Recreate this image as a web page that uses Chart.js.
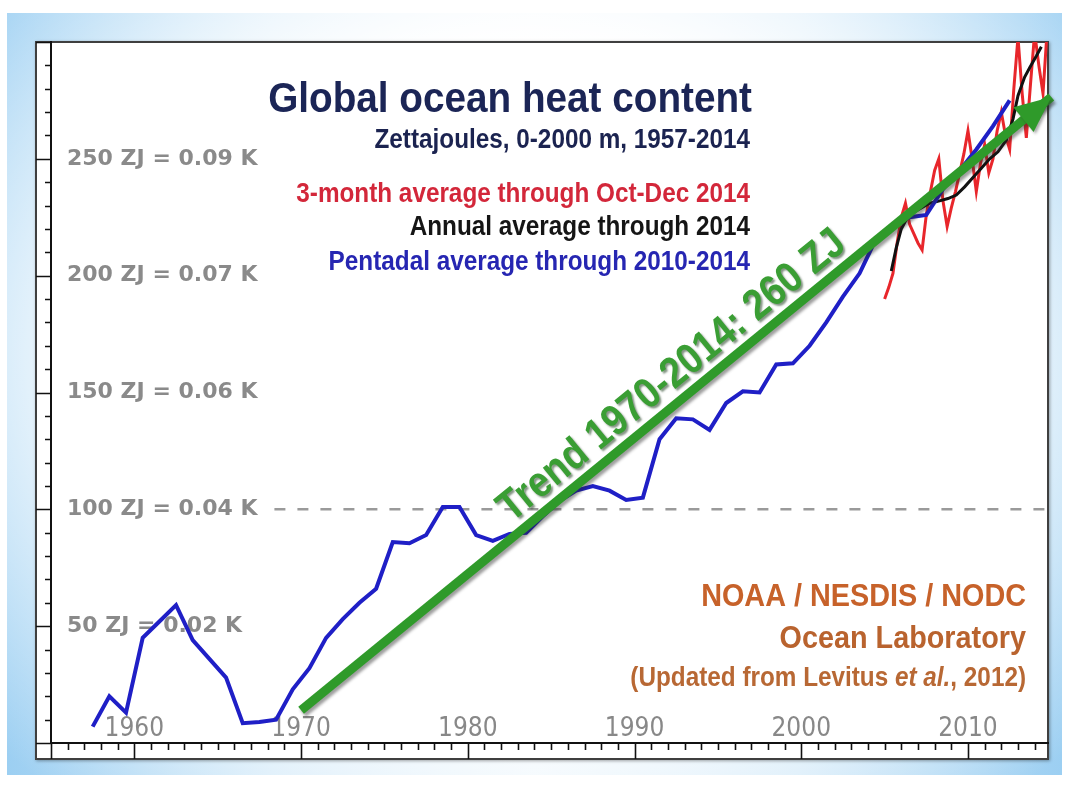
<!DOCTYPE html>
<html>
<head>
<meta charset="utf-8">
<script src="https://cdn.jsdelivr.net/npm/chart.js@4.4.1/dist/chart.umd.min.js"></script>
<style>
  html, body { margin: 0; padding: 0; background: #fff; }
  body { width: 1069px; height: 785px; position: relative; overflow: hidden; }
  #slide {
    position: absolute; left: 7px; top: 13px; width: 1055px; height: 762px;
    background:
      radial-gradient(ellipse 70% 75% at 50% 45%, rgba(255,255,255,1) 55%, rgba(255,255,255,0) 100%),
      linear-gradient(to right, #9ccff2 0%, #cde7f8 25%, #e8f4fc 50%, #cde7f8 75%, #9ccff2 100%);
  }
  #frame {
    position: absolute; left: 35px; top: 41px; width: 1010px; height: 715px;
    background: #fff; border: 2px solid #3f3f3f;
    box-shadow: 1px 1px 3px rgba(0,0,0,0.35);
  }
  #chart { position: absolute; left: 0; top: 0; }
</style>
</head>
<body>
<div id="slide"></div>
<div id="frame"></div>
<canvas id="chart" width="1069" height="785"></canvas>
<script>
// tick labels
const xTickYears = [1960, 1970, 1980, 1990, 2000, 2010];
const yTickZJ = [50, 100, 150, 200, 250];
const yTickKelvin = ['0.02', '0.04', '0.06', '0.07', '0.09'];

// pentadal average (blue), centred years
const pentadalYears = [1957.5, 1958.5, 1959.5, 1960.5, 1961.5, 1962.5, 1963.5, 1964.5, 1965.5, 1966.5,
  1967.5, 1968.5, 1969.5, 1970.5, 1971.5, 1972.5, 1973.5, 1974.5, 1975.5, 1976.5,
  1977.5, 1978.5, 1979.5, 1980.5, 1981.5, 1982.5, 1983.5, 1984.5, 1985.5, 1986.5,
  1987.5, 1988.5, 1989.5, 1990.5, 1991.5, 1992.5, 1993.5, 1994.5, 1995.5, 1996.5,
  1997.5, 1998.5, 1999.5, 2000.5, 2001.5, 2002.5, 2003.5, 2004.5, 2005.5, 2006.5,
  2007.5, 2008.5, 2009.5, 2010.5, 2011.5, 2012.5];
const pentadalZJ = [7, 20, 13, 45, 52, 59, 44, 36, 28, 8.5,
  9, 10, 23, 32, 45, 53, 60, 66, 86, 85.5,
  89, 101, 101, 89, 86.5, 89.5, 90, 97, 103.5, 108,
  110, 108, 104, 105, 130, 139, 138.5, 134, 145.5, 150.5,
  150, 162, 162.5, 170, 180, 191, 201, 216, 222, 225,
  226, 237, 245, 254, 264, 275];

// annual average (black)
const annualYears = [2005.4, 2005.7, 2006.0, 2006.3, 2006.7, 2007.2, 2007.7, 2008.3, 2008.8, 2009.3, 2009.8,
  2010.3, 2010.8, 2011.3, 2011.8, 2012.3, 2012.7, 2013.0, 2013.4, 2013.7, 2014.1, 2014.4];
const annualZJ = [202, 212, 220, 224, 227, 229, 231, 232, 233, 234.5, 238,
  242, 246, 250, 253, 258, 267, 277, 285, 289, 294, 298];

// 3-month average (red)
const quarterYears = [2005, 2005.25, 2005.5, 2005.75, 2006, 2006.25, 2006.5, 2006.75, 2007, 2007.25,
  2007.5, 2007.75, 2008, 2008.25, 2008.5, 2008.75, 2009, 2009.25, 2009.5, 2009.75,
  2010, 2010.25, 2010.5, 2010.75, 2011, 2011.25, 2011.5, 2011.75, 2012, 2012.25,
  2012.5, 2012.75, 2013, 2013.25, 2013.5, 2013.75, 2014, 2014.25, 2014.5, 2014.75];
const quarterZJ = [190, 195, 201, 214, 225, 231, 222, 218, 214, 211,
  226, 236, 245, 250, 232, 221, 229, 236, 244, 252,
  262, 250, 236, 248, 256, 244, 250, 262, 270, 260,
  254, 280, 302, 278, 259, 282, 304, 290, 278, 305];

// trend 1970-2014 arrow and 100 ZJ reference line
const trendYears = [1970, 2015];
const trendZJ = [14, 276.5];
const refYears = [1968.4, 2014.8];
const refZJ = [100, 100];

const pts = (xs, ys) => xs.map((v, i) => ({ x: v, y: ys[i] }));
const SANS = '"Liberation Sans", Arial, sans-serif';

// tick marks outside the plot: long at labelled ticks, short otherwise
const tickMarks = {
  id: 'tickMarks',
  beforeDatasetsDraw(chart) {
    const { ctx, chartArea: a } = chart;
    const x = chart.scales.x, y = chart.scales.y;
    ctx.save();
    ctx.strokeStyle = '#111';
    ctx.lineWidth = 1.6;
    ctx.beginPath();
    x.ticks.forEach(t => {
      if (!Number.isInteger(t.value)) return;
      const px = Math.round(x.getPixelForValue(t.value)) + 0.5;
      const len = (t.value % 10 === 0 || t.value === x.min) ? 16 : 7;
      ctx.moveTo(px, a.bottom);
      ctx.lineTo(px, a.bottom + len);
    });
    y.ticks.forEach(t => {
      const py = Math.round(y.getPixelForValue(t.value)) + 0.5;
      const len = t.value % 50 === 0 ? 15 : 6;
      ctx.moveTo(a.left, py);
      ctx.lineTo(a.left - len, py);
    });
    ctx.stroke();
    ctx.restore();
  }
};

// shadow under the green trend line
const trendShadow = {
  id: 'trendShadow',
  beforeDatasetDraw(chart, args) {
    if (args.index !== 0) return;
    const ctx = chart.ctx;
    ctx.save();
    ctx.shadowColor = 'rgba(40,40,40,0.45)';
    ctx.shadowOffsetX = 2;
    ctx.shadowOffsetY = 3;
    ctx.shadowBlur = 3;
  },
  afterDatasetDraw(chart, args) {
    if (args.index !== 0) return;
    chart.ctx.restore();
  }
};

function drawText(ctx, txt, x, y, size, color, sx, style) {
  ctx.save();
  ctx.translate(x, y);
  ctx.scale(sx, 1);
  ctx.font = (style || 'bold') + ' ' + size + 'px ' + SANS;
  ctx.fillStyle = color;
  ctx.textAlign = 'right';
  ctx.textBaseline = 'alphabetic';
  ctx.fillText(txt, 0, 0);
  ctx.restore();
}

const annotations = {
  id: 'annotations',
  afterDatasetsDraw(chart) {
    const { ctx } = chart;
    const x = chart.scales.x, y = chart.scales.y;

    // arrow head at the end of the trend
    const x0 = x.getPixelForValue(trendYears[0]), y0 = y.getPixelForValue(trendZJ[0]);
    const x1 = x.getPixelForValue(trendYears[1]), y1 = y.getPixelForValue(trendZJ[1]);
    const ang = Math.atan2(y1 - y0, x1 - x0);
    const L = 36, W = 16;
    const bx = x1 - L * Math.cos(ang), by = y1 - L * Math.sin(ang);
    ctx.save();
    ctx.shadowColor = 'rgba(40,40,40,0.4)';
    ctx.shadowOffsetX = 2; ctx.shadowOffsetY = 2; ctx.shadowBlur = 3;
    ctx.fillStyle = '#2f9a2a';
    ctx.beginPath();
    ctx.moveTo(x1, y1);
    ctx.lineTo(bx + W * Math.sin(ang), by - W * Math.cos(ang));
    ctx.lineTo(bx - W * Math.sin(ang), by + W * Math.cos(ang));
    ctx.closePath();
    ctx.fill();
    ctx.restore();

    // trend label along the arrow
    const t = 0.515;
    ctx.save();
    ctx.translate(x0 + t * (x1 - x0), y0 + t * (y1 - y0));
    ctx.rotate(ang);
    ctx.scale(0.88, 1);
    ctx.font = 'bold 43px ' + SANS;
    ctx.textAlign = 'center';
    ctx.textBaseline = 'alphabetic';
    ctx.shadowColor = 'rgba(30,60,30,0.55)';
    ctx.shadowOffsetX = 2; ctx.shadowOffsetY = 2; ctx.shadowBlur = 2;
    ctx.fillStyle = '#3a9e34';
    ctx.fillText('Trend 1970-2014: 260 ZJ', 0, -12);
    ctx.restore();

    // title block
    drawText(ctx, 'Global ocean heat content', 752, 112, 43, '#1b2556', 0.9);
    drawText(ctx, 'Zettajoules, 0-2000 m, 1957-2014', 750, 148, 27, '#1b2350', 0.9);
    drawText(ctx, '3-month average through Oct-Dec 2014', 750, 202, 27, '#d3273a', 0.9);
    drawText(ctx, 'Annual average through 2014', 750, 235, 27, '#151515', 0.9);
    drawText(ctx, 'Pentadal average through 2010-2014', 750, 270, 27, '#2626b2', 0.9);

    // credits
    drawText(ctx, 'NOAA / NESDIS / NODC', 1026, 606, 32, '#c7622a', 0.9);
    drawText(ctx, 'Ocean Laboratory', 1026, 648, 32, '#b9632e', 0.9);
    const parts = [['(Updated from Levitus ', 'bold'], ['et al.', 'italic bold'], [', 2012)', 'bold']];
    let rx = 1026;
    for (let i = parts.length - 1; i >= 0; i--) {
      drawText(ctx, parts[i][0], rx, 686, 27, '#b86834', 0.9, parts[i][1]);
      ctx.save();
      ctx.font = parts[i][1] + ' 27px ' + SANS;
      rx -= ctx.measureText(parts[i][0]).width * 0.9;
      ctx.restore();
    }
  }
};

new Chart(document.getElementById('chart'), {
  type: 'line',
  data: {
    datasets: [
      {
        label: 'Trend 1970-2014',
        data: pts(trendYears, trendZJ),
        borderColor: '#2f9a2a',
        borderWidth: 9,
        pointRadius: 0,
        clip: false
      },
      {
        label: 'Pentadal average',
        data: pts(pentadalYears, pentadalZJ),
        borderColor: '#1f1fc6',
        borderWidth: 4,
        pointRadius: 0
      },
      {
        label: 'Annual average',
        data: pts(annualYears, annualZJ),
        borderColor: '#111111',
        borderWidth: 3,
        pointRadius: 0
      },
      {
        label: '3-month average',
        data: pts(quarterYears, quarterZJ),
        borderColor: '#e8262b',
        borderWidth: 3,
        pointRadius: 0
      },
      {
        label: '100 ZJ',
        data: pts(refYears, refZJ),
        borderColor: '#9a9a9a',
        borderWidth: 2.5,
        borderDash: [11, 12],
        pointRadius: 0
      }
    ]
  },
  options: {
    responsive: false,
    animation: false,
    devicePixelRatio: 1,
    events: [],
    layout: { padding: { left: 19, top: 42, right: 21, bottom: 40 } },
    plugins: { legend: { display: false }, tooltip: { enabled: false } },
    scales: {
      x: {
        type: 'linear',
        min: 1955,
        max: 2014.8,
        grid: { display: false, drawTicks: false },
        border: { display: true, color: '#111', width: 2 },
        ticks: {
          stepSize: 1,
          includeBounds: false,
          autoSkip: false,
          maxRotation: 0,
          mirror: true,
          padding: 1,
          color: '#888888',
          font: { family: '"Liberation Sans Narrow", "Arial Narrow", "DejaVu Sans Condensed", sans-serif', size: 26, lineHeight: 1.0 },
          callback: v => xTickYears.includes(v) ? String(v) : ''
        }
      },
      y: {
        min: 0,
        max: 300,
        grid: { display: false, drawTicks: false },
        border: { display: true, color: '#111', width: 2 },
        ticks: {
          stepSize: 10,
          autoSkip: false,
          mirror: true,
          padding: 16,
          color: '#8a8a8a',
          font: { family: '"DejaVu Sans", sans-serif', size: 22, weight: 'bold' },
          callback: v => {
            const i = yTickZJ.indexOf(v);
            return i >= 0 ? v + ' ZJ = ' + yTickKelvin[i] + ' K' : '';
          }
        }
      }
    }
  },
  plugins: [tickMarks, trendShadow, annotations]
});
</script>
</body>
</html>
